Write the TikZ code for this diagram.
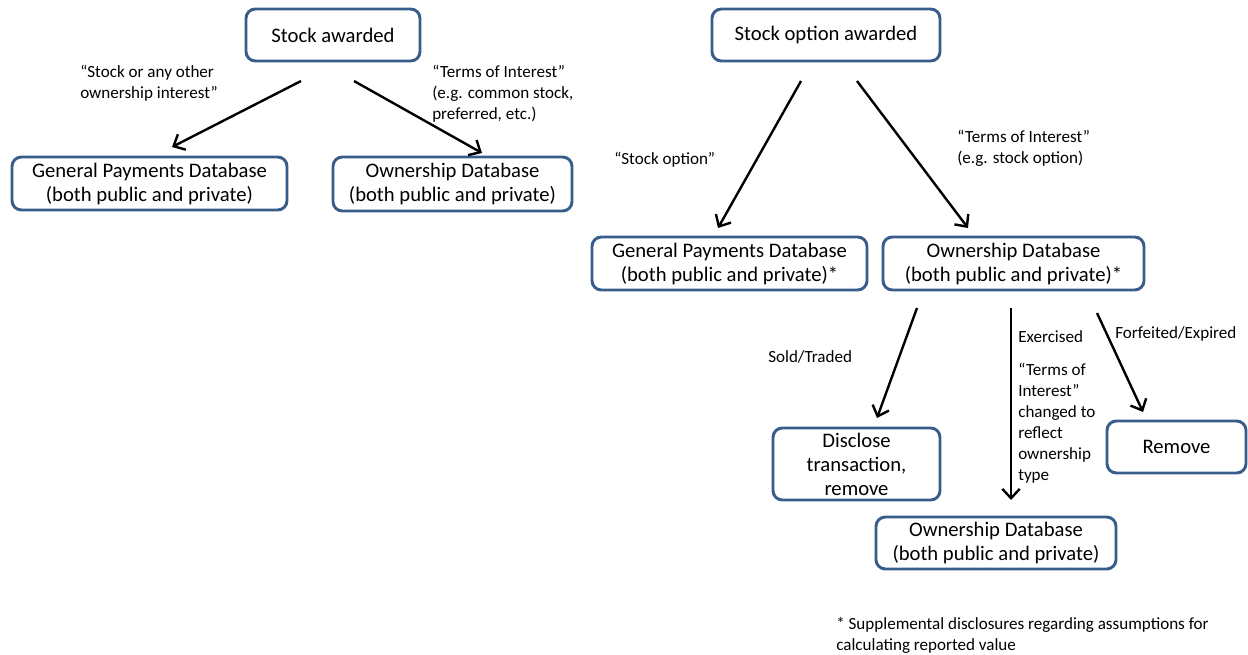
\documentclass[tikz,border=0pt]{standalone}
\usepackage{fontspec}
\setmainfont{Carlito}
\usetikzlibrary{arrows.meta}
\definecolor{boxblue}{RGB}{56,93,138}

\begin{document}
\begin{tikzpicture}[
    x=0.75pt, y=-0.75pt,
    box/.style={rectangle, draw=boxblue, line width=2.2pt, rounded corners=7pt,
                align=center, inner sep=0pt, font=\fontsize{15.5}{18}\selectfont},
    boxsize/.style 2 args={minimum width=#1*0.75pt, minimum height=#2*0.75pt},
    lbl/.style={anchor=north west, align=left, inner sep=0pt,
                font=\fontsize{12.8}{15.7}\selectfont},
    flow/.style={-{Straight Barb[length=7pt, width=13pt, line width=1.8pt]}, line width=1.8pt}
]
\useasboundingbox (0,0) rectangle (1248,654);

% Define boxes
\node[box, boxsize={174}{52}] (stock) at (333,35) {Stock awarded};
\node[box, boxsize={228}{52}] (option) at (826,35) {Stock option awarded};
\node[box, boxsize={275}{53}] (gpd1) at (149.5,183.5) {General Payments Database\\(both public and private)};
\node[box, boxsize={239}{54}] (own1) at (452.5,184) {Ownership Database\\(both public and private)};
\node[box, boxsize={275}{53}] (gpd2) at (729.5,263.5) {General Payments Database\\(both public and private)*};
\node[box, boxsize={261}{53}] (own2) at (1013.5,263.5) {Ownership Database\\(both public and private)*};
\node[box, boxsize={167}{72}] (disclose) at (856.5,464) {Disclose\\transaction,\\remove};
\node[box, boxsize={139}{52}] (remove) at (1176.5,447) {Remove};
\node[box, boxsize={240}{52}] (own3) at (996,543) {Ownership Database\\(both public and private)};

% Arrow ends
\coordinate (s1) at (301,81);  \coordinate (e1) at (172,147);
\coordinate (s2) at (354,81);  \coordinate (e2) at (482,153);
\coordinate (s3) at (801,81);  \coordinate (e3) at (718,228);
\coordinate (s4) at (857,81);  \coordinate (e4) at (968,228);
\coordinate (s5) at (917,308); \coordinate (e5) at (877,418);
\coordinate (s6) at (1011,308); \coordinate (e6) at (1011,500);
\coordinate (s7) at (1097,313); \coordinate (e7) at (1143,412);

% Relations
\draw[flow] (s1) -- (e1);
\draw[flow] (s2) -- (e2);
\draw[flow] (s3) -- (e3);
\draw[flow] (s4) -- (e4);
\draw[flow] (s5) -- (e5);
\draw[flow] (s6) -- (e6);
\draw[flow] (s7) -- (e7);

% Labels
\node[lbl] (l1) at (80,65) {“Stock or any other\\ ownership interest”};
\node[lbl] (l2) at (432,65) {“Terms of Interest”\\(e.g. common stock,\\preferred, etc.)};
\node[lbl] (l3) at (614,152) {“Stock option”};
\node[lbl] (l4) at (957,130) {“Terms of Interest”\\(e.g. stock option)};
\node[lbl] (l5) at (768,350) {Sold/Traded};
\node[lbl] (l6) at (1018,330) {Exercised};
\node[lbl] (l7) at (1018,363) {“Terms of\\Interest”\\changed to\\reflect\\ownership\\type};
\node[lbl] (l8) at (1115,326) {Forfeited/Expired};
\node[lbl] (note) at (836,617) {* Supplemental disclosures regarding assumptions for\\calculating reported value};

\end{tikzpicture}
\end{document}
